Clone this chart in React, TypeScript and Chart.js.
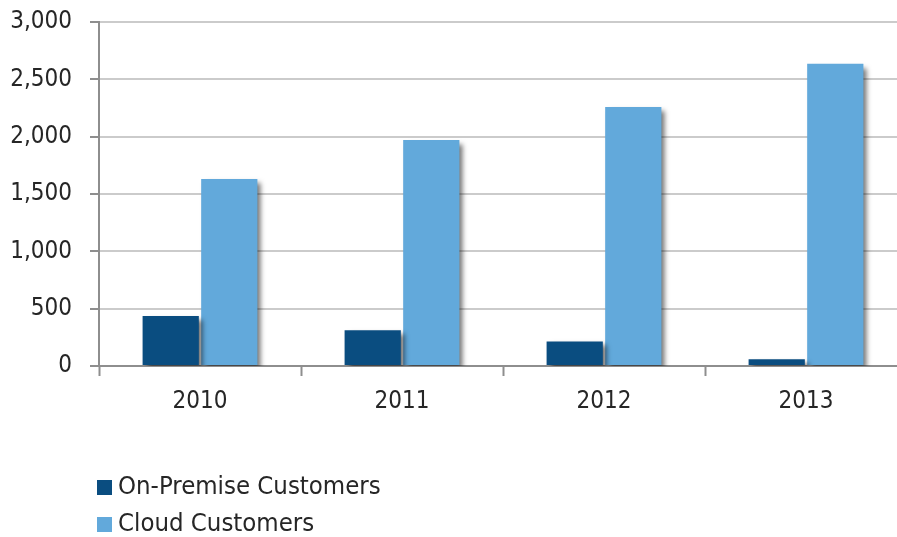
import React, { useEffect, useRef } from "react";
import { Chart, registerables } from "chart.js";

Chart.register(...registerables);

const categories = ["2010", "2011", "2012", "2013"];
const onPremise = [435, 311, 214, 59];
const cloud = [1630, 1972, 2258, 2636];
const seriesNames = ["On-Premise Customers", "Cloud Customers"];
const seriesColors = ["#0a4d80", "#62a9db"];
const yMin = 0;
const yMax = 3000;
const yStep = 500;

const FONT = "'DejaVu Sans Condensed', 'DejaVu Sans', sans-serif";
const TEXT = "#262626";
const AXIS = "#8e8e8e";
const GRID = "#cbcbcb";

const shadowPlugin = {
  id: "barShadow",
  beforeDatasetDraw(chart: any) {
    const c = chart.ctx;
    c.save();
    c.shadowColor = "rgba(0,0,0,0.55)";
    c.shadowBlur = 5;
    c.shadowOffsetX = 4;
    c.shadowOffsetY = 4;
  },
  afterDatasetDraw(chart: any) {
    chart.ctx.restore();
  },
};

const legendPlugin = {
  id: "stackedLegend",
  afterDraw(chart: any) {
    const { ctx, chartArea } = chart;
    ctx.save();
    ctx.font = `25.5px ${FONT}`;
    ctx.textBaseline = "middle";
    ctx.textAlign = "left";
    chart.data.datasets.forEach((ds: any, i: number) => {
      const cy = chartArea.bottom + 121 + i * 37;
      ctx.fillStyle = ds.backgroundColor;
      ctx.fillRect(chartArea.left - 2, cy - 7, 15, 15);
      ctx.fillStyle = TEXT;
      ctx.fillText(ds.label, chartArea.left + 19, cy);
    });
    ctx.restore();
  },
};

export default function App() {
  const ref = useRef<HTMLCanvasElement | null>(null);
  useEffect(() => {
    if (!ref.current) return;
    const chart = new Chart(ref.current, {
      type: "bar",
      data: {
        labels: categories,
        datasets: [
          {
            label: seriesNames[0],
            data: onPremise,
            backgroundColor: seriesColors[0],
            borderWidth: 0,
          },
          {
            label: seriesNames[1],
            data: cloud,
            backgroundColor: seriesColors[1],
            borderWidth: 0,
          },
        ],
      },
      options: {
        animation: false,
        responsive: true,
        maintainAspectRatio: false,
        layout: { padding: { top: 22, right: 3, bottom: 111, left: 0 } },
        datasets: {
          bar: { categoryPercentage: 0.58, barPercentage: 0.96 },
        },
        plugins: {
          legend: { display: false },
          tooltip: { enabled: false },
        },
        scales: {
          x: {
            afterFit: (s: any) => {
              s.height = 60;
            },
            grid: {
              drawOnChartArea: false,
              drawTicks: true,
              tickLength: 10,
              tickColor: AXIS,
              tickWidth: 2,
              offset: true,
            },
            border: { color: AXIS, width: 2 },
            ticks: { color: TEXT, font: { family: FONT, size: 24 }, padding: 11 },
          },
          y: {
            min: yMin,
            max: yMax,
            afterFit: (s: any) => {
              s.width = 99;
              s.paddingTop = 0;
              s.paddingBottom = 0;
            },
            grid: {
              color: GRID,
              lineWidth: 2,
              tickLength: 9,
              tickColor: AXIS,
              tickWidth: 2,
            },
            border: { color: AXIS, width: 2 },
            ticks: {
              stepSize: yStep,
              color: TEXT,
              font: { family: FONT, size: 24 },
              padding: 18,
              callback: (v: any) => Number(v).toLocaleString("en-US"),
            },
          },
        },
      },
      plugins: [shadowPlugin, legendPlugin],
    });
    return () => chart.destroy();
  }, []);
  return (
    <div
      style={{
        position: "fixed",
        left: 0,
        top: 0,
        width: 910,
        height: 537,
        background: "#fff",
      }}
    >
      <canvas ref={ref} />
    </div>
  );
}
